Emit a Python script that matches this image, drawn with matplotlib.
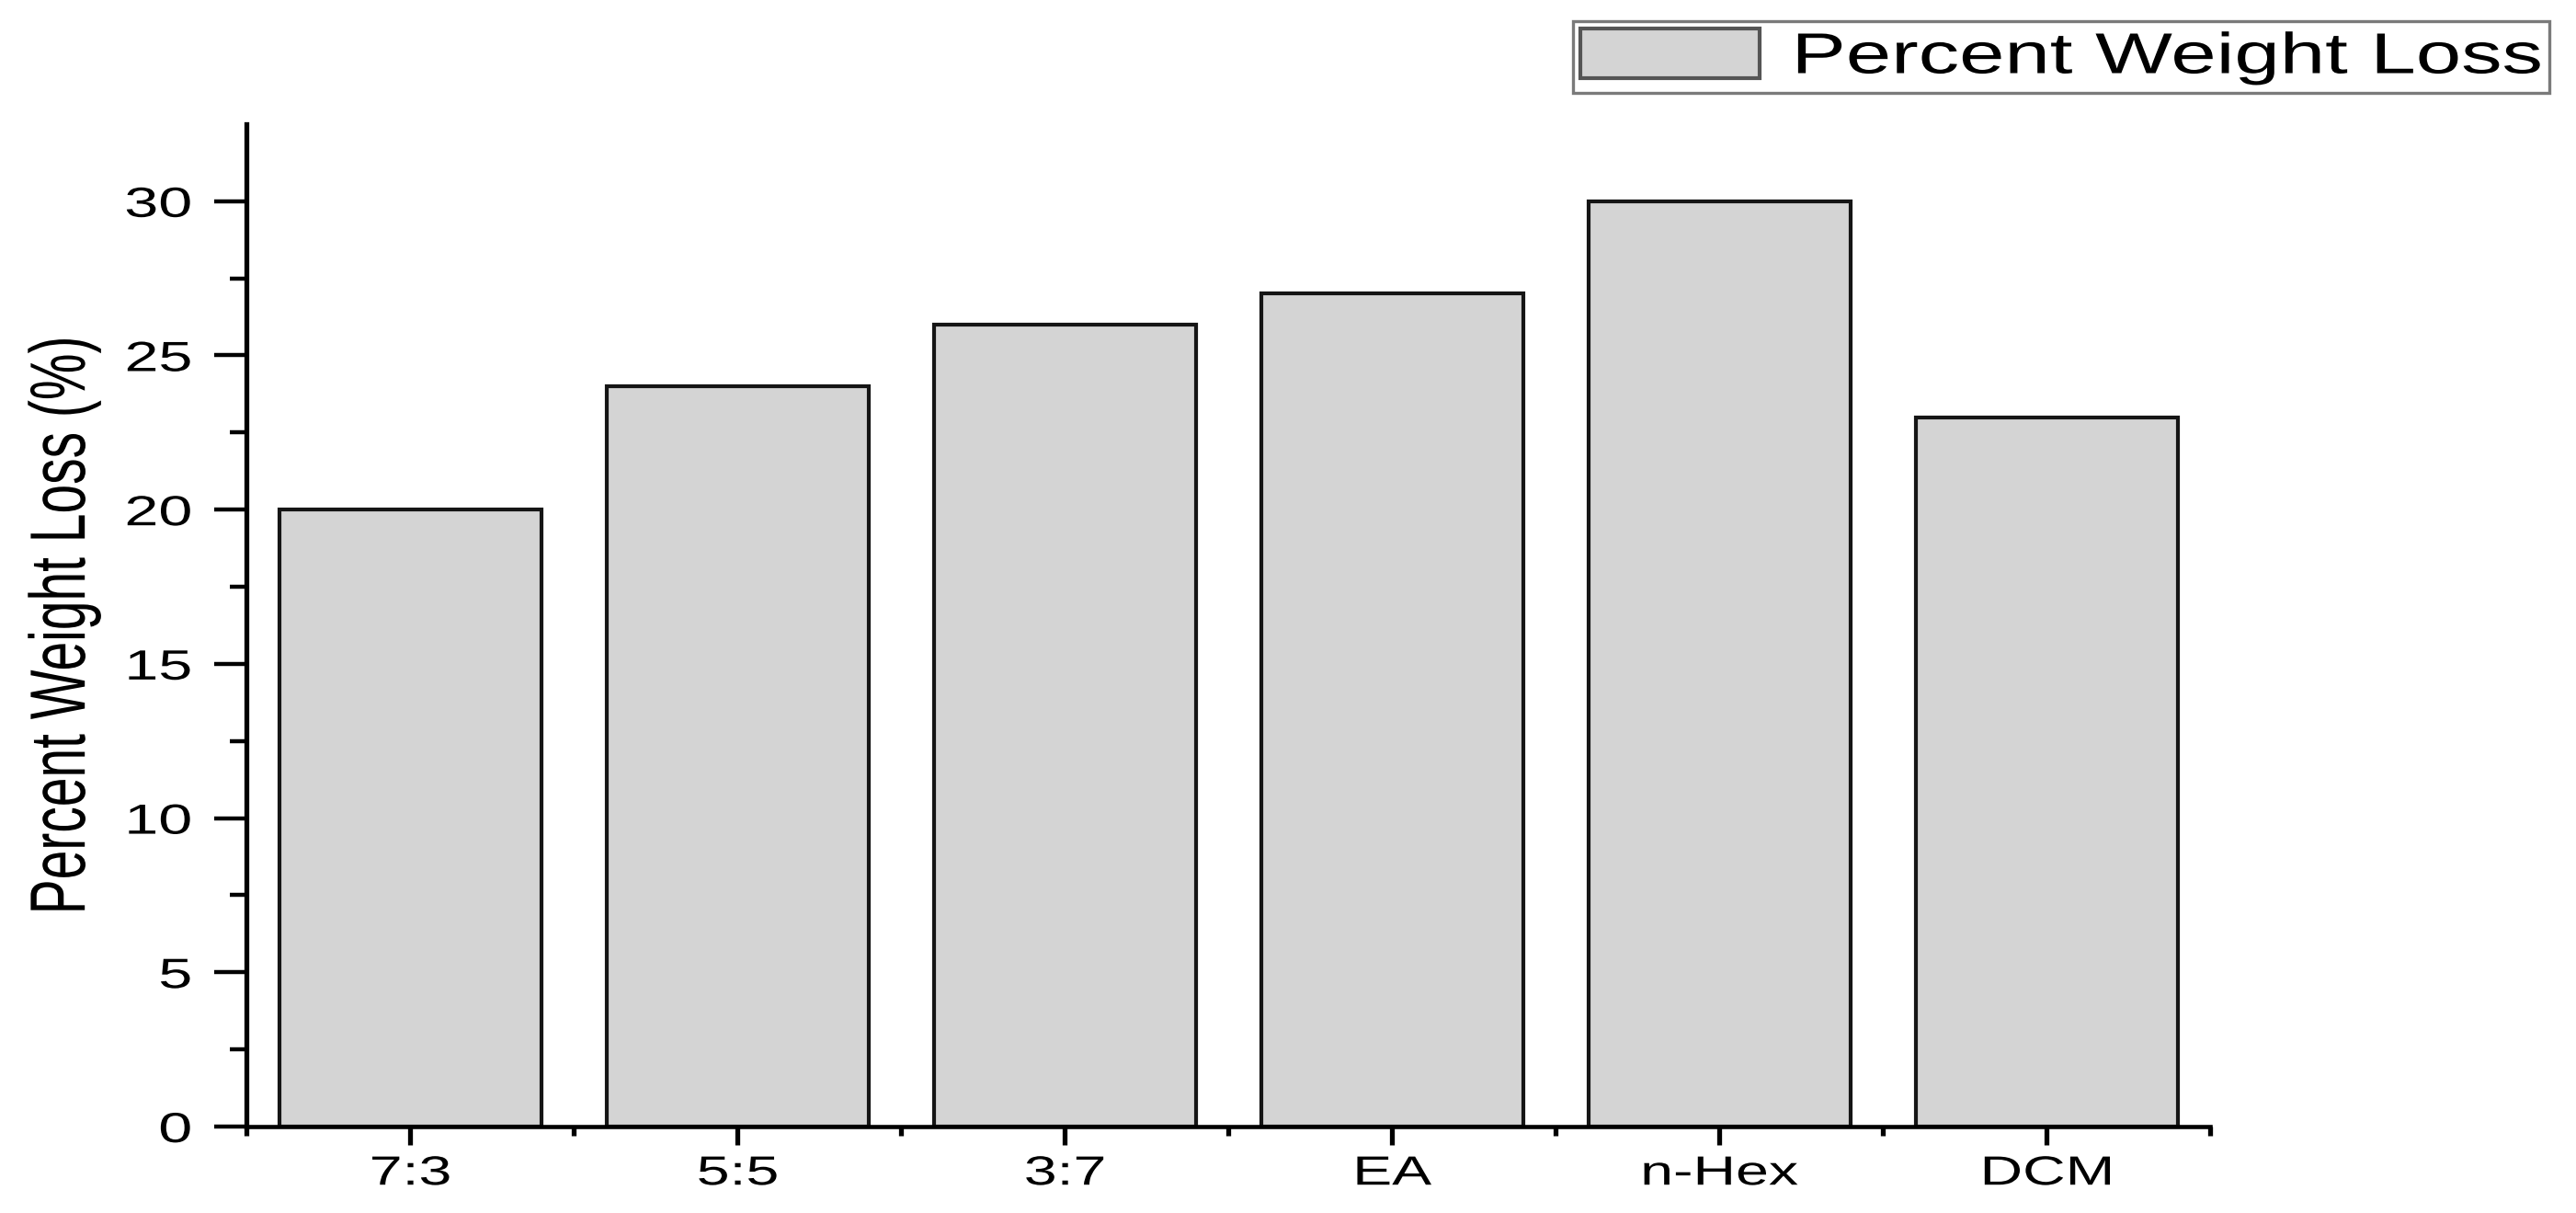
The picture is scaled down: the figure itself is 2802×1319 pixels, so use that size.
import numpy as np
import matplotlib
matplotlib.use("Agg")
import matplotlib.pyplot as plt
from matplotlib import patheffects
from matplotlib.ticker import FixedLocator
from matplotlib.transforms import Affine2D

solvents = ["7:3", "5:5", "3:7", "EA", "n-Hex", "DCM"]
weight_loss = [20, 24, 26, 27, 30, 23]

y_major = [0, 5, 10, 15, 20, 25, 30]
y_minor = [2.5, 7.5, 12.5, 17.5, 22.5, 27.5]

plt.rcParams['font.family'] = ['Liberation Sans', 'DejaVu Sans']


class WideText(patheffects.AbstractPathEffect):
    """Stretch the glyphs sideways; the original figure was scaled in x."""

    def __init__(self, sx=1.45, anchor='center'):
        super().__init__()
        self.sx = sx
        self.anchor = anchor

    def draw_path(self, renderer, gc, tpath, affine, rgbFace=None):
        if len(tpath.vertices) == 0:
            return
        xs = affine.transform(tpath.vertices)[:, 0]
        if self.anchor == 'left':
            x0 = xs.min()
        elif self.anchor == 'right':
            x0 = xs.max()
        else:
            x0 = (xs.min() + xs.max()) / 2
        stretch = Affine2D().translate(-x0, 0).scale(self.sx, 1).translate(x0, 0)
        renderer.draw_path(gc, tpath, affine + stretch, rgbFace)


fig = plt.figure(figsize=(28.02, 13.19), dpi=100)
ax = fig.add_axes([0.0957, 0.0713, 0.7623, 0.8264])

x = np.arange(len(solvents))
ax.bar(x, weight_loss, width=0.8, color='#d4d4d4', edgecolor='#151515',
       linewidth=3.0, label='Percent Weight Loss', zorder=2)

ax.set_xlim(-0.5, len(solvents) - 0.5)
ax.set_ylim(0, 32.5)

ax.set_xticks(x)
ax.set_xticklabels(solvents)
ax.xaxis.set_minor_locator(FixedLocator(np.arange(-0.5, len(solvents), 1.0)))
ax.set_yticks(y_major)
ax.yaxis.set_minor_locator(FixedLocator(y_minor))

for side in ['top', 'right']:
    ax.spines[side].set_visible(False)
ax.spines['left'].set_linewidth(3.8)
ax.spines['bottom'].set_linewidth(3.3)
for side in ['left', 'bottom']:
    ax.spines[side].set_zorder(3)

ax.tick_params(axis='y', which='major', direction='out', length=25, width=3.2,
               labelsize=33, pad=18)
ax.tick_params(axis='y', which='minor', direction='out', length=13, width=3.2)
ax.tick_params(axis='x', which='major', direction='out', length=14.5, width=3.8,
               labelsize=32, pad=8)
ax.tick_params(axis='x', which='minor', direction='out', length=7, width=3.8)

for lab in ax.get_yticklabels():
    lab.set_path_effects([WideText(1.45, 'right')])
for lab in ax.get_xticklabels():
    lab.set_path_effects([WideText(1.45, 'center')])

ylab = ax.set_ylabel('Percent Weight Loss (%)', fontsize=41)
ylab.set_path_effects([WideText(1.5, 'right')])
ax.yaxis.set_label_coords(-0.074, 0.5)

leg = ax.legend(loc='upper right', bbox_to_anchor=(0.9897, 0.9826),
                bbox_transform=fig.transFigure, borderaxespad=0,
                fontsize=45, fancybox=False, framealpha=1, edgecolor='#7a7a7a',
                handlelength=3.12, handleheight=0.95, handletextpad=4.4,
                borderpad=0.13)
leg.get_frame().set_linewidth(2.4)
for txt in leg.get_texts():
    txt.set_path_effects([WideText(1.42, 'right')])
for patch in leg.get_patches():
    patch.set_edgecolor('#555555')

fig.savefig('out.png', dpi=100)
